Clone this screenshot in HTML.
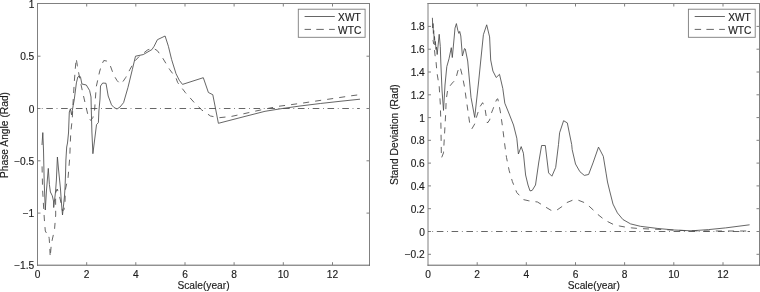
<!DOCTYPE html>
<html><head><meta charset="utf-8"><title>Phase angle and standard deviation</title>
<style>
html,body{margin:0;padding:0;background:#fff;}
body{width:760px;height:292px;overflow:hidden;}
svg{display:block;}
text{font-family:"Liberation Sans",Arial,Helvetica,sans-serif;font-size:10.2px;fill:#1c1c1c;stroke:#1c1c1c;stroke-width:0.15px;}
.ax{stroke:#808080;stroke-width:1;fill:none;}
.tk{stroke:#808080;stroke-width:1;fill:none;}
.sol{stroke:#4a4a4a;stroke-width:0.85;fill:none;stroke-linejoin:round;}
.dsh{stroke:#4a4a4a;stroke-width:0.85;fill:none;stroke-dasharray:6.1 6.05;stroke-linejoin:round;}
.dd{stroke:#555;stroke-width:0.9;fill:none;stroke-dasharray:6.6 3.7 0.8 3.7;stroke-dashoffset:6;}
.lg{stroke:#7c7c7c;stroke-width:0.9;fill:#fff;}
</style></head><body>
<svg width="760" height="292" viewBox="0 0 760 292">
<rect x="0" y="0" width="760" height="292" fill="#fff"/>

<path class="ax" d="M37.5 3.0V265.7M369.5 3.0V265.7M37.0 3.5H370.0"/>
<path class="ax" style="stroke:#606060" d="M37.0 265.2H370.0"/>
<text x="37.5" y="278.0" text-anchor="middle">0</text>
<path class="tk" d="M86.7 265.2V262.2M86.7 3.5V6.5"/>
<text x="86.7" y="278.0" text-anchor="middle">2</text>
<path class="tk" d="M135.8 265.2V262.2M135.8 3.5V6.5"/>
<text x="135.8" y="278.0" text-anchor="middle">4</text>
<path class="tk" d="M185.0 265.2V262.2M185.0 3.5V6.5"/>
<text x="185.0" y="278.0" text-anchor="middle">6</text>
<path class="tk" d="M234.1 265.2V262.2M234.1 3.5V6.5"/>
<text x="234.1" y="278.0" text-anchor="middle">8</text>
<path class="tk" d="M283.3 265.2V262.2M283.3 3.5V6.5"/>
<text x="283.3" y="278.0" text-anchor="middle">10</text>
<path class="tk" d="M332.5 265.2V262.2M332.5 3.5V6.5"/>
<text x="332.5" y="278.0" text-anchor="middle">12</text>
<text x="34.3" y="8.0" text-anchor="end">1</text>
<path class="tk" d="M37.5 56.2H40.5M369.5 56.2H366.5"/>
<text x="34.3" y="60.2" text-anchor="end">0.5</text>
<path class="tk" d="M37.5 108.5H40.5M369.5 108.5H366.5"/>
<text x="34.3" y="112.5" text-anchor="end">0</text>
<path class="tk" d="M37.5 160.8H40.5M369.5 160.8H366.5"/>
<text x="34.3" y="164.8" text-anchor="end">−0.5</text>
<path class="tk" d="M37.5 213.1H40.5M369.5 213.1H366.5"/>
<text x="34.3" y="217.1" text-anchor="end">−1</text>
<text x="34.3" y="269.3" text-anchor="end">−1.5</text>
<path class="dd" d="M37.5 108.5H359.8"/>
<polyline class="dsh" style="stroke-dashoffset:8.72" points="42.0,163.0 42.6,190.0 43.6,207.0 44.4,220.0 45.3,231.0 47.0,234.0 48.3,233.5 49.2,238.5 49.7,245.5 50.2,257.0 51.3,244.5 52.4,239.0 54.0,232.0 54.6,228.5 55.7,215.0 55.6,200.0 55.9,192.0 57.2,189.0 58.6,193.0 60.4,200.0 62.5,211.0 64.0,209.5 65.0,203.0 65.3,190.0 66.6,184.0 67.8,181.0 68.7,170.0 69.8,157.0 70.2,145.0 70.8,132.0 72.2,120.0 73.2,100.0 74.3,82.0 75.3,68.6 76.2,58.5 77.3,65.3 79.7,78.5 83.0,93.8 86.3,108.0 88.5,117.5 90.7,120.4 92.9,117.5 94.6,110.0 96.2,87.0 99.5,72.0 101.5,65.0 103.8,60.5 106.5,61.0 109.3,63.0 113.7,75.0 117.0,80.5 120.3,84.0 123.0,81.5 125.8,77.4 130.0,69.3 134.4,61.6 138.8,56.8 147.5,50.0 153.0,48.0 157.4,50.7 162.9,58.4 169.5,69.3 176.0,78.0 177.7,82.6 185.3,92.5 194.1,102.4 201.8,110.0 210.5,116.0 219.2,117.7 231.0,116.5 242.7,114.0 255.0,111.2 266.7,108.7 278.4,106.3 290.7,104.7 303.1,103.0 315.0,101.2 327.2,99.4 339.2,97.6 351.1,95.8 357.3,95.0"/>
<polyline class="sol" points="42.0,145.0 42.8,132.6 43.5,150.0 44.2,182.0 45.3,210.0 46.5,190.0 48.3,168.4 49.4,184.5 50.4,192.0 52.3,195.8 53.5,201.0 53.7,207.5 55.5,192.0 56.4,180.0 57.4,157.0 58.6,170.0 60.4,188.0 61.6,205.0 62.5,215.0 64.4,197.0 65.0,188.0 65.5,175.0 65.9,160.0 66.7,147.0 67.5,143.0 68.5,133.0 69.3,112.0 70.4,108.8 71.5,114.8 73.2,105.5 74.2,100.0 76.4,82.9 77.8,77.0 79.5,76.0 80.5,77.0 81.9,84.0 86.3,85.0 89.6,90.5 91.0,97.0 91.3,110.0 91.9,132.0 92.9,153.7 96.5,124.7 98.4,122.5 98.9,111.0 100.0,99.0 100.5,86.0 102.7,83.0 106.0,83.3 108.2,96.0 111.5,104.8 114.0,107.5 117.0,109.0 120.0,107.0 123.6,102.6 128.0,87.3 132.3,69.7 135.5,56.2 143.2,54.6 151.9,49.6 154.1,46.3 157.4,39.7 165.1,36.0 168.4,46.3 171.6,59.5 176.0,73.7 179.3,80.3 182.5,84.4 203.3,77.7 208.4,92.5 212.8,94.7 218.4,123.3 247.0,115.9 265.0,111.3 283.0,108.4 300.0,106.0 320.3,103.5 340.0,101.3 360.0,99.2"/>
<text x="203.5" y="289.4" text-anchor="middle">Scale(year)</text>
<text transform="translate(7.7 135.00) rotate(-90)" text-anchor="middle" style="font-size:10.25px">Phase Angle (Rad)</text>
<rect class="lg" x="298.3" y="9.2" width="66.8" height="28.1"/>
<path class="sol" d="M304.6 16.5H334.8"/>
<path class="dsh" style="stroke-dasharray:7.5 5.3;stroke-dashoffset:1.1" d="M304.6 29.4H334.8"/>
<text x="338.1" y="20.9">XWT</text>
<text x="338.1" y="33.7">WTC</text>
<path class="ax" d="M428 3.0V265.7M759.5 3.0V265.7M427.5 3.5H760.0"/>
<path class="ax" style="stroke:#606060" d="M427.5 265.2H760.0"/>
<text x="428.0" y="278.0" text-anchor="middle">0</text>
<path class="tk" d="M477.2 265.2V262.2M477.2 3.5V6.5"/>
<text x="477.2" y="278.0" text-anchor="middle">2</text>
<path class="tk" d="M526.3 265.2V262.2M526.3 3.5V6.5"/>
<text x="526.3" y="278.0" text-anchor="middle">4</text>
<path class="tk" d="M575.5 265.2V262.2M575.5 3.5V6.5"/>
<text x="575.5" y="278.0" text-anchor="middle">6</text>
<path class="tk" d="M624.6 265.2V262.2M624.6 3.5V6.5"/>
<text x="624.6" y="278.0" text-anchor="middle">8</text>
<path class="tk" d="M673.8 265.2V262.2M673.8 3.5V6.5"/>
<text x="673.8" y="278.0" text-anchor="middle">10</text>
<path class="tk" d="M723.0 265.2V262.2M723.0 3.5V6.5"/>
<text x="723.0" y="278.0" text-anchor="middle">12</text>
<path class="tk" d="M428 254.3H431.0M759.5 254.3H756.5"/>
<text x="424.8" y="258.3" text-anchor="end">−0.2</text>
<path class="tk" d="M428 231.5H431.0M759.5 231.5H756.5"/>
<text x="424.8" y="235.5" text-anchor="end">0</text>
<path class="tk" d="M428 208.7H431.0M759.5 208.7H756.5"/>
<text x="424.8" y="212.7" text-anchor="end">0.2</text>
<path class="tk" d="M428 185.9H431.0M759.5 185.9H756.5"/>
<text x="424.8" y="189.9" text-anchor="end">0.4</text>
<path class="tk" d="M428 163.1H431.0M759.5 163.1H756.5"/>
<text x="424.8" y="167.1" text-anchor="end">0.6</text>
<path class="tk" d="M428 140.3H431.0M759.5 140.3H756.5"/>
<text x="424.8" y="144.3" text-anchor="end">0.8</text>
<path class="tk" d="M428 117.6H431.0M759.5 117.6H756.5"/>
<text x="424.8" y="121.6" text-anchor="end">1</text>
<path class="tk" d="M428 94.8H431.0M759.5 94.8H756.5"/>
<text x="424.8" y="98.8" text-anchor="end">1.2</text>
<path class="tk" d="M428 72.0H431.0M759.5 72.0H756.5"/>
<text x="424.8" y="76.0" text-anchor="end">1.4</text>
<path class="tk" d="M428 49.2H431.0M759.5 49.2H756.5"/>
<text x="424.8" y="53.2" text-anchor="end">1.6</text>
<path class="tk" d="M428 26.4H431.0M759.5 26.4H756.5"/>
<text x="424.8" y="30.4" text-anchor="end">1.8</text>
<path class="dd" d="M428.0 231.5H750"/>
<polyline class="dsh" style="stroke-dashoffset:1.91" points="433.0,40.0 434.2,47.0 435.0,55.0 435.9,60.0 437.0,73.0 439.2,86.3 440.3,104.0 440.9,124.0 441.4,158.2 443.5,152.8 445.7,113.3 446.2,99.5 447.9,88.5 452.3,83.0 455.6,79.7 457.8,71.0 460.0,66.6 462.2,75.3 464.4,86.3 466.6,101.7 468.8,117.0 469.8,124.0 472.0,128.6 474.7,124.0 476.4,117.4 479.7,107.1 482.6,102.7 484.8,107.1 486.3,117.0 487.4,123.0 489.6,120.0 491.8,112.0 492.9,109.3 496.6,99.5 497.8,98.8 500.4,112.0 502.6,127.3 504.8,145.0 506.5,157.5 509.2,170.7 512.4,181.6 516.8,192.6 523.4,199.6 528.8,200.8 537.5,202.0 545.5,207.0 551.0,210.3 554.0,211.0 557.0,210.0 561.9,206.6 566.8,202.6 572.6,200.2 575.5,199.8 578.3,200.2 584.4,202.6 589.1,206.2 593.9,210.6 598.0,214.6 603.0,218.6 607.1,221.3 613.3,224.4 619.5,226.0 624.9,227.0 631.8,227.9 637.3,228.4 649.6,229.0 661.9,229.5 680.0,230.4 700.0,231.0 748.0,231.0"/>
<polyline class="sol" points="432.4,17.8 432.8,28.0 433.0,23.5 433.4,33.5 433.7,30.5 434.2,40.0 434.5,36.5 435.0,45.0 435.4,41.5 436.0,49.5 436.4,47.0 437.2,54.5 439.2,34.3 440.3,46.5 440.8,62.0 442.0,90.0 443.5,110.4 445.0,85.0 446.8,66.6 449.0,58.8 451.3,47.7 452.3,57.5 454.3,36.0 455.0,28.1 456.4,23.6 457.8,30.3 458.9,33.4 459.7,31.4 460.8,36.0 462.4,56.0 464.5,48.5 465.3,49.0 467.7,61.0 471.0,97.3 474.7,117.4 478.6,82.0 480.8,60.0 483.4,34.7 486.7,24.8 489.6,36.9 490.7,60.0 492.9,71.0 496.2,77.5 499.5,74.3 502.8,88.5 504.8,103.2 509.2,114.0 513.5,125.0 516.8,138.2 518.4,154.0 521.2,146.6 523.4,153.2 525.6,175.0 528.0,185.0 530.0,190.9 532.2,190.4 535.5,185.0 538.8,162.0 541.6,145.5 545.3,145.5 548.6,172.9 551.9,176.2 555.7,167.4 558.5,144.4 559.6,132.8 563.6,120.7 567.3,122.9 571.7,144.6 572.2,149.7 575.5,164.0 579.9,171.7 584.3,175.4 588.6,174.5 593.0,162.9 598.5,147.1 603.3,156.3 606.2,173.9 607.5,182.0 609.7,191.0 613.0,204.1 617.4,212.9 622.9,219.5 630.6,223.9 640.4,226.3 657.1,228.4 674.2,230.0 691.4,230.8 708.5,229.6 725.6,227.9 749.6,224.8"/>
<text x="593.8" y="289.4" text-anchor="middle">Scale(year)</text>
<text transform="translate(398.4 134.65) rotate(-90)" text-anchor="middle" style="font-size:10.25px">Stand Deviation (Rad)</text>
<rect class="lg" x="688.4" y="9.2" width="66.8" height="28.1"/>
<path class="sol" d="M694.7 16.5H724.9"/>
<path class="dsh" style="stroke-dasharray:7.5 5.3;stroke-dashoffset:1.1" d="M694.7 29.4H724.9"/>
<text x="728.2" y="20.9">XWT</text>
<text x="728.2" y="33.7">WTC</text>
</svg></body></html>
